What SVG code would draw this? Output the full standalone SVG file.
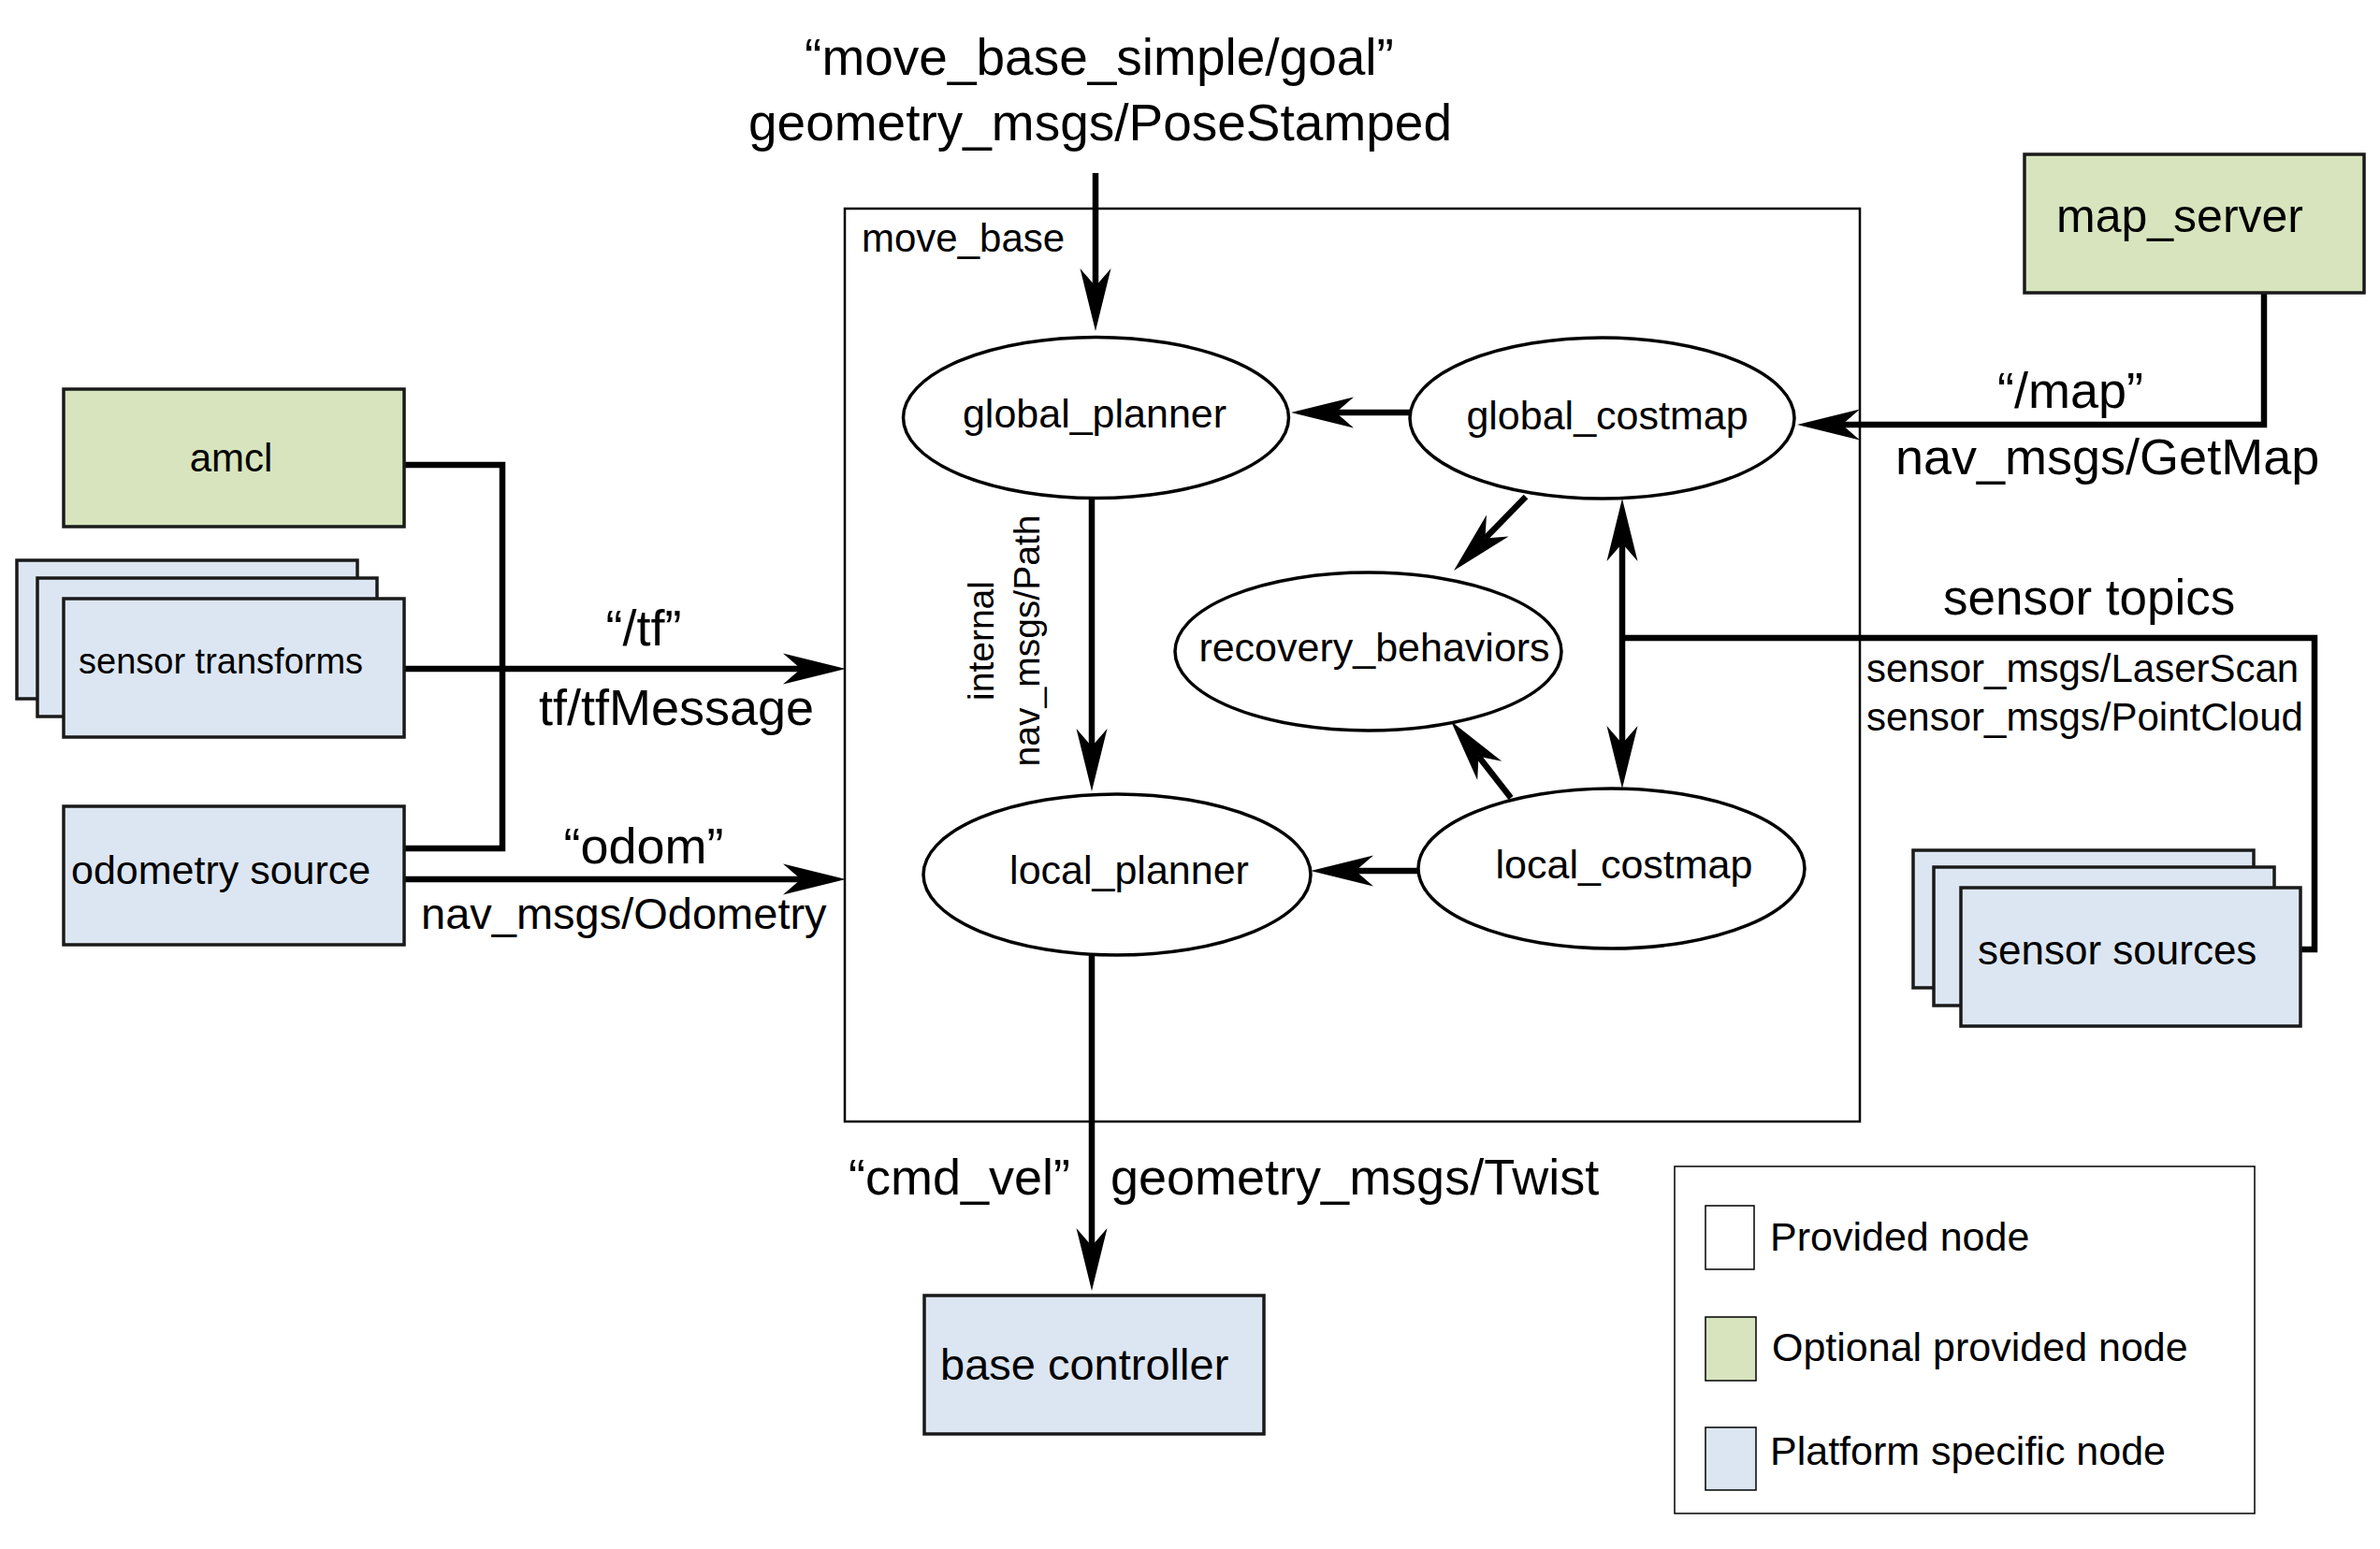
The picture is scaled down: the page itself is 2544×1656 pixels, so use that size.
<svg xmlns="http://www.w3.org/2000/svg" width="2544" height="1656" viewBox="0 0 2544 1656">
<style>
text{font-family:"Liberation Sans",Arial,sans-serif;fill:#000}
.box{stroke:#1a1a1a;stroke-width:3.5}
.green{fill:#d7e4bd}
.blue{fill:#dce6f2}
.ell{fill:#fff;stroke:#000;stroke-width:3.5}
.n{font-size:43px}
.big{font-size:54px}
.con{fill:none;stroke:#000;stroke-width:6.5}
.arr{marker-end:url(#ah)}
</style>
<defs>
<marker id="ah" markerUnits="userSpaceOnUse" markerWidth="70" markerHeight="36" refX="19" refY="17" orient="auto-start-reverse" overflow="visible">
<path d="M0,0.5 L67,17 L0,33.5 L19,17 Z" fill="#000"/>
</marker>
</defs>
<rect width="2544" height="1656" fill="#fff"/>

<g id="move_base">
<rect x="903" y="223" width="1085" height="976" fill="none" stroke="#000" stroke-width="2.5"/>
<text x="921" y="269" font-size="42">move_base</text>
</g>

<g id="legend">
<rect x="1790" y="1247" width="620" height="371" fill="#fff" stroke="#000" stroke-width="1.5"/>
<rect x="1823" y="1289" width="52" height="68" fill="#fff" stroke="#000" stroke-width="1.5"/>
<rect x="1823" y="1408" width="54" height="68" class="green" stroke="#000" stroke-width="1.5"/>
<rect x="1823" y="1526" width="54" height="67" class="blue" stroke="#000" stroke-width="1.5"/>
<text x="1892" y="1337" class="n">Provided node</text>
<text x="1894" y="1455" class="n">Optional provided node</text>
<text x="1892" y="1566" class="n">Platform specific node</text>
</g>

<g id="connectors">
<path class="con" d="M432,497 H537 V907 H432" stroke-width="5.5"/>
<path class="con arr" d="M432,715 H856"/>
<path class="con arr" d="M432,940 H856"/>
<path class="con arr" d="M1171,185 V306"/>
<path class="con arr" d="M1507,441 H1428"/>
<path class="con arr" d="M2420,313 V454 H1969"/>
<path class="con arr" d="M1167,532 V798"/>
<path class="con arr" d="M1167,1021 V1332"/>
<path class="con arr" d="M1516,931 H1449"/>
<path class="con arr" d="M1631,531 L1587.5,575.6"/>
<path class="con arr" d="M1615,853 L1580.5,808.8"/>
<path class="con arr" d="M1734,581 V795" marker-start="url(#ah)"/>
<path class="con" d="M1734,682 H2474 V1015 H2459"/>
<text x="1175" y="80" text-anchor="middle" font-size="55">“move_base_simple/goal”</text>
<text x="1176" y="150" text-anchor="middle" font-size="55">geometry_msgs/PoseStamped</text>
<text x="688" y="690" text-anchor="middle" class="big">“/tf”</text>
<text x="723" y="775" text-anchor="middle" class="big">tf/tfMessage</text>
<text x="688" y="923" text-anchor="middle" class="big">“odom”</text>
<text x="450" y="993" font-size="47">nav_msgs/Odometry</text>
<text x="2213" y="436" text-anchor="middle" class="big">“/map”</text>
<text x="2026" y="507" class="big">nav_msgs/GetMap</text>
<text x="2077" y="657" font-size="53">sensor topics</text>
<text x="1995" y="729" font-size="42">sensor_msgs/LaserScan</text>
<text x="1995" y="781" font-size="42">sensor_msgs/PointCloud</text>
<text x="1144" y="1277" text-anchor="end" class="big">“cmd_vel”</text>
<text x="1187" y="1277" class="big">geometry_msgs/Twist</text>
<text transform="translate(1062,685) rotate(-90)" text-anchor="middle" font-size="39">internal</text>
<text transform="translate(1111,685) rotate(-90)" text-anchor="middle" font-size="39">nav_msgs/Path</text>
</g>

<g id="amcl">
<rect x="68" y="416" width="364" height="147" class="box green"/>
<text x="247" y="504" text-anchor="middle" font-size="42">amcl</text>
</g>

<g id="sensor_transforms">
<rect x="18" y="599" width="364" height="148" class="box blue"/>
<rect x="40" y="618" width="363" height="148" class="box blue"/>
<rect x="68" y="640" width="364" height="148" class="box blue"/>
<text x="84" y="720" font-size="38">sensor transforms</text>
</g>

<g id="odometry_source">
<rect x="68" y="862" width="364" height="148" class="box blue"/>
<text x="76" y="945" class="n">odometry source</text>
</g>

<g id="map_server">
<rect x="2164" y="165" width="363" height="148" class="box green"/>
<text x="2198" y="248" font-size="50">map_server</text>
</g>

<g id="sensor_sources">
<rect x="2045" y="909" width="364" height="147" class="box blue"/>
<rect x="2067" y="927" width="364" height="148" class="box blue"/>
<rect x="2096" y="949" width="363" height="148" class="box blue"/>
<text x="2114" y="1031" font-size="44">sensor sources</text>
</g>

<g id="base_controller">
<rect x="988" y="1385" width="363" height="148" class="box blue"/>
<text x="1005" y="1475" font-size="47">base controller</text>
</g>

<g id="global_planner">
<ellipse cx="1171.5" cy="446.5" rx="206" ry="86" class="ell"/>
<text x="1170" y="457" text-anchor="middle" class="n">global_planner</text>
</g>

<g id="global_costmap">
<ellipse cx="1712.5" cy="447" rx="205.5" ry="86" class="ell"/>
<text x="1718" y="459" text-anchor="middle" class="n">global_costmap</text>
</g>

<g id="recovery_behaviors">
<ellipse cx="1462.5" cy="696.5" rx="206.5" ry="84.5" class="ell"/>
<text x="1469" y="707" text-anchor="middle" class="n">recovery_behaviors</text>
</g>

<g id="local_planner">
<ellipse cx="1194" cy="935" rx="207" ry="86" class="ell"/>
<text x="1207" y="945" text-anchor="middle" class="n">local_planner</text>
</g>

<g id="local_costmap">
<ellipse cx="1722.5" cy="928.5" rx="206.5" ry="85.5" class="ell"/>
<text x="1736" y="939" text-anchor="middle" class="n">local_costmap</text>
</g>
</svg>
